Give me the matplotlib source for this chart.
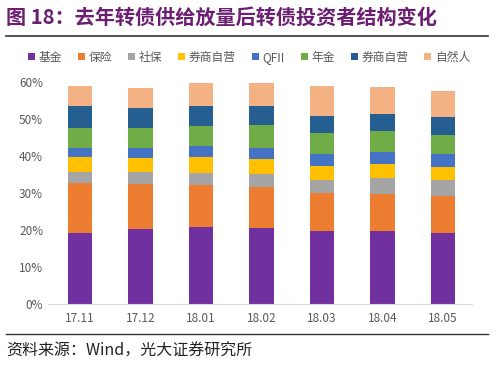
import matplotlib
matplotlib.use("Agg")
import matplotlib.pyplot as plt
import numpy as np
from matplotlib.lines import Line2D
from matplotlib.patches import Patch

plt.rcParams['font.family'] = ['Noto Sans CJK SC', 'DejaVu Sans']

categories = ["17.11", "17.12", "18.01", "18.02", "18.03", "18.04", "18.05"]
series_names = ["基金", "保险", "社保", "券商自营", "QFII", "年金", "券商自营", "自然人"]
jijin    = [19.1, 20.2, 20.7, 20.5, 19.8, 19.8, 19.3]
baoxian  = [13.7, 12.3, 11.5, 11.1, 10.1, 9.9, 10.0]
shebao   = [3.0, 3.1, 3.1, 3.5, 3.6, 4.3, 4.2]
quanshang1 = [4.0, 3.8, 4.5, 4.1, 3.9, 3.8, 3.5]
qfii     = [2.4, 2.7, 3.0, 3.0, 3.2, 3.4, 3.5]
nianjin  = [5.4, 5.4, 5.4, 6.2, 5.7, 5.7, 5.2]
quanshang2 = [5.9, 5.6, 5.2, 5.0, 4.6, 4.6, 4.8]
ziranren = [5.5, 5.4, 6.3, 6.3, 8.1, 7.1, 7.2]
yticks = [0, 10, 20, 30, 40, 50, 60]

series = [jijin, baoxian, shebao, quanshang1, qfii, nianjin, quanshang2, ziranren]
colors = ["#7030A0", "#ED7D31", "#A5A5A5", "#FFC000", "#4472C4", "#70AD47", "#255E91", "#F4B183"]

fig = plt.figure(figsize=(5, 3.68), dpi=100)
ax = fig.add_axes([0.096, 0.174, 0.848, 0.603])

x = np.arange(len(categories))
bottom = np.zeros(len(categories))
for vals, c, name in zip(series, colors, series_names):
    ax.bar(x, vals, width=0.4, bottom=bottom, color=c, label=name)
    bottom += np.array(vals)

ax.set_xlim(-0.53, 6.48)
ax.set_ylim(0, 60)
ax.set_yticks(yticks)
ax.set_yticklabels([f"{t}%" for t in yticks])
ax.set_xticks(x)
ax.set_xticklabels(categories)
ax.tick_params(axis='both', length=0, labelsize=8.5, colors="#595959")
ax.tick_params(axis='x', pad=6)
for s in ["top", "right", "left"]:
    ax.spines[s].set_visible(False)
ax.spines["bottom"].set_color("#D9D9D9")

handles = [Patch(facecolor=c, edgecolor='none') for c in colors]
fig.legend(handles, series_names, loc='center', bbox_to_anchor=(0.498, 0.845), ncol=8,
           frameon=False, fontsize=8.5, handlelength=0.6, handleheight=0.6,
           handletextpad=0.3, columnspacing=1.35, labelcolor="#595959")

fig.text(0.012, 0.953, "图 18：去年转债供给放量后转债投资者结构变化", fontsize=14.5,
         fontweight='bold', color="#6B1E72", va='center', ha='left')
fig.add_artist(Line2D([0.012, 0.976], [0.902, 0.902], color="#333333", lw=1.2))
fig.add_artist(Line2D([0.012, 0.976], [0.092, 0.092], color="#333333", lw=1.0))
fig.text(0.012, 0.045, "资料来源：Wind，光大证券研究所", fontsize=11.5, color="#222222",
         va='center', ha='left')

fig.savefig("out.png", dpi=100, facecolor="white")
